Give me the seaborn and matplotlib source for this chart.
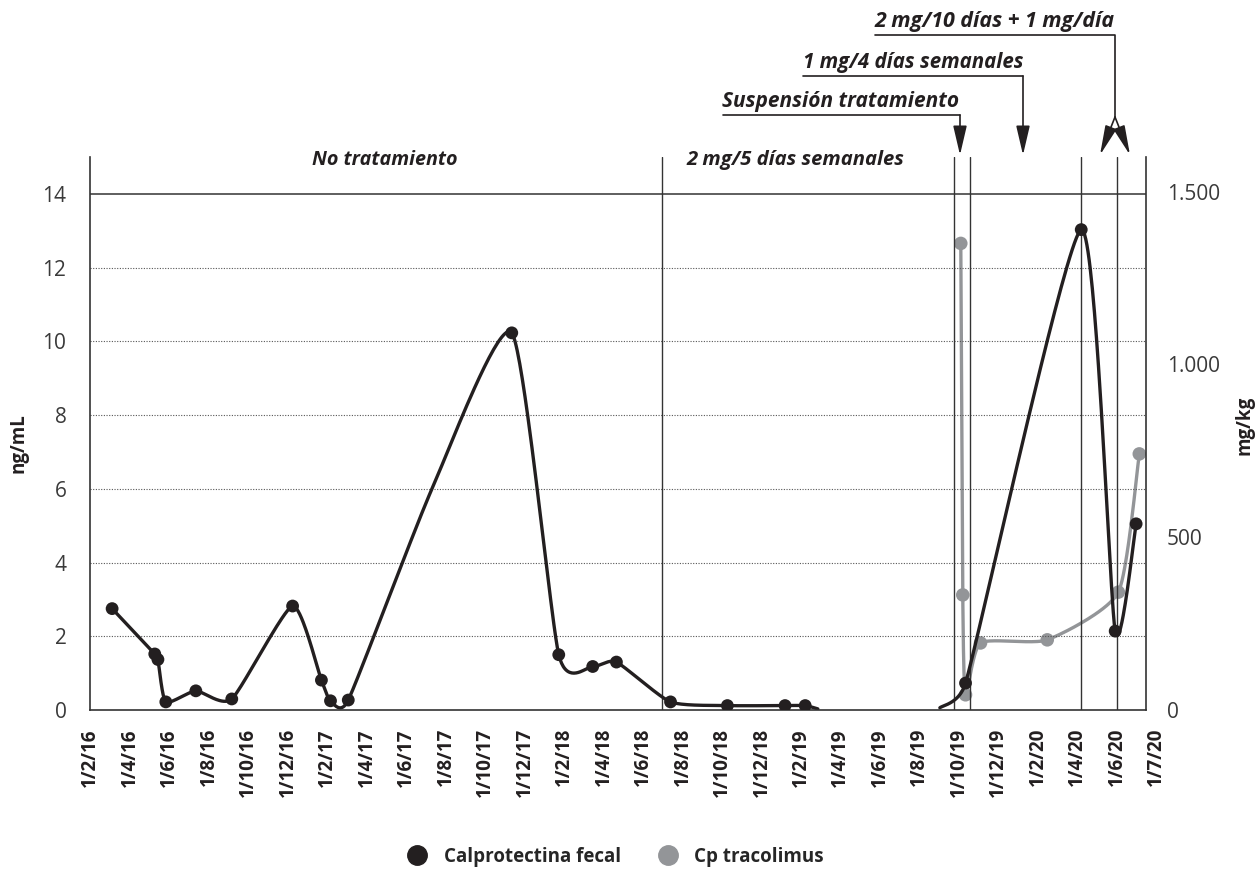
import numpy as np
import pandas as pd
import matplotlib
matplotlib.use("Agg")
import matplotlib.pyplot as plt
import matplotlib.transforms as mtransforms
from matplotlib.lines import Line2D
import seaborn as sns

# eje x: posicion en unidades de etiqueta (0 = 1/2/16, 1 = 1/4/16, ...)
fechas = ["1/2/16", "1/4/16", "1/6/16", "1/8/16", "1/10/16", "1/12/16",
          "1/2/17", "1/4/17", "1/6/17", "1/8/17", "1/10/17", "1/12/17",
          "1/2/18", "1/4/18", "1/6/18", "1/8/18", "1/10/18", "1/12/18",
          "1/2/19", "1/4/19", "1/6/19", "1/8/19", "1/10/19", "1/12/19",
          "1/2/20", "1/4/20", "1/6/20", "1/7/20"]

# Calprotectina fecal (ng/mL) - tramo 1 (1 = con marcador)
calpro1_x = [0.56, 1.64, 1.72, 1.92, 2.68, 3.59, 5.13, 5.86, 6.09, 6.54,
             8.66, 10.68, 11.87, 12.73, 13.33, 14.70, 16.14, 17.60, 18.11, 18.43]
calpro1_y = [2.75, 1.52, 1.37, 0.22, 0.52, 0.30, 2.82, 0.81, 0.25, 0.27,
             6.0, 10.23, 1.50, 1.18, 1.30, 0.22, 0.12, 0.12, 0.12, 0.03]
calpro1_m = [1, 1, 1, 1, 1, 1, 1, 1, 1, 1, 0, 1, 1, 1, 1, 1, 1, 1, 1, 0]

# tramo 2
calpro2_x = [21.52, 22.17, 25.10, 25.96, 26.49]
calpro2_y = [0.06, 0.73, 13.03, 2.14, 5.05]
calpro2_m = [0, 1, 1, 1, 1]

# Cp tacrolimus (mg/kg)
tacro_x = [22.05, 22.10, 22.17, 22.55, 24.24, 26.04, 26.57]
tacro_y = [1350, 333, 44, 194, 203, 341, 741]

# cambios de tratamiento
cortes = [14.49, 21.87, 22.28, 25.10, 26.01]

negro = "#231f20"
gris = "#939598"
texto = "#3a3a3a"


def suavizar(x, y, kx, ky, n=40, f=0.1, tope=1.0):
    # curva suave tipo Excel (Bezier, tiradores limitados al tramo, en pixeles)
    p = np.column_stack([np.asarray(x) * kx, np.asarray(y) * ky]).astype(float)
    p = np.vstack([p[0], p, p[-1]])
    t = np.linspace(0, 1, n)[:, None]
    out = []
    for i in range(1, len(p) - 2):
        p0, p1, p2, p3 = p[i - 1], p[i], p[i + 1], p[i + 2]
        l12 = np.hypot(*(p2 - p1))
        h1 = (p2 - p0) * f
        h2 = (p3 - p1) * f
        for h in (h1, h2):
            n_h = np.hypot(*h)
            if n_h > tope * l12:
                h *= tope * l12 / n_h
        c1 = p1 + h1
        c2 = p2 - h2
        out.append((1 - t) ** 3 * p1 + 3 * (1 - t) ** 2 * t * c1
                   + 3 * (1 - t) * t ** 2 * c2 + t ** 3 * p2)
    out = np.vstack(out)
    return out[:, 0] / kx, out[:, 1] / ky


sns.set_theme(style="white")
plt.rcParams["font.family"] = ["Open Sans", "DejaVu Sans"]

fig = plt.figure(figsize=(12.6, 8.72), dpi=100)
ax = fig.add_axes([90 / 1260, 162 / 872, 1056 / 1260, 553 / 872])
ax2 = ax.twinx()
ax.set_zorder(ax2.get_zorder() + 1)
ax.patch.set_visible(False)

# grid
for v in [2, 4, 6, 8, 10, 12]:
    ax.axhline(v, color="#555555", lw=0.8, ls=(0, (1, 1.4)), zorder=0)
ax.axhline(14, color="#333333", lw=1.1, zorder=0)
for c in cortes:
    ax.axvline(c, color="#333333", lw=1.0, zorder=0)

# Cp tacrolimus (eje derecho)
sx, sy = suavizar(tacro_x, tacro_y, 39.6, 553 / 1600)
sns.lineplot(x=sx, y=sy, ax=ax2, color=gris, lw=2.4, sort=False, estimator=None)
sns.scatterplot(x=tacro_x, y=tacro_y, ax=ax2, color=gris, s=95, edgecolor="none", zorder=3)

# Calprotectina fecal
for xs, ys, ms, tp in [(calpro1_x, calpro1_y, calpro1_m, 1.0),
                       (calpro2_x, calpro2_y, calpro2_m, 0.6)]:
    sx, sy = suavizar(xs, ys, 39.6, 553 / 15, tope=tp)
    sns.lineplot(x=sx, y=sy, ax=ax, color=negro, lw=2.4, sort=False, estimator=None)
    df = pd.DataFrame({"x": xs, "y": ys, "m": ms})
    df = df[df["m"] == 1]
    sns.scatterplot(data=df, x="x", y="y", ax=ax, color=negro, s=85, edgecolor="none", zorder=4)

ax.set_xlim(0.076, 26.74)
ax.set_ylim(0, 15)
ax2.set_ylim(0, 1600)

ax.set_yticks(range(0, 15, 2))
ax.set_yticklabels([str(v) for v in range(0, 15, 2)], fontsize=15, color=texto)
ax2.set_yticks([0, 500, 1000, 1500])
ax2.set_yticklabels(["0", "500", "1.000", "1.500"], fontsize=15, color=texto)
ax.tick_params(axis="y", length=0, pad=17)
ax2.tick_params(axis="y", length=0, pad=15)

ax.set_xticks(range(27))
ax.set_xticklabels(fechas[:27], rotation=90, fontsize=13.5, fontweight="bold", color=negro)
ax.tick_params(axis="x", length=0, pad=13)
trans = mtransforms.offset_copy(ax.get_xaxis_transform(), fig=fig, y=-13, units="points")
ax.text(27, 0, fechas[27], transform=trans, rotation=90, ha="center", va="top",
        fontsize=13.5, fontweight="bold", color=negro, clip_on=False)

ax.set_xlabel("")
ax.set_ylabel("")
ax2.set_ylabel("")
fig.text(18 / 1260, 1 - 443 / 872, "ng/mL", rotation=90, ha="center", va="center",
         fontsize=13.5, fontweight="bold", color=negro)
fig.text(1245 / 1260, 1 - 425 / 872, "mg/kg", rotation=90, ha="center", va="center",
         fontsize=13.5, fontweight="bold", color=negro)

for s in ax.spines.values():
    s.set_color("#333333")
    s.set_linewidth(1.2)
ax.spines["top"].set_visible(False)
for s in ax2.spines.values():
    s.set_visible(False)

# etiquetas de tratamiento
def ftxt(x, y, s, size=15):
    fig.text(x / 1260, 1 - y / 872, s, ha="left", va="baseline", fontsize=size,
             fontweight="bold", fontstyle="italic", color=negro)

ftxt(312, 165, "No tratamiento", 14.2)
ftxt(686, 165, "2 mg/5 días semanales", 14.6)
ftxt(722, 107, "Suspensión tratamiento")
ftxt(803, 68, "1 mg/4 días semanales", 14.8)
ftxt(875, 27, "2 mg/10 días + 1 mg/día", 15.4)

def fline(pts):
    xs = [p[0] / 1260 for p in pts]
    ys = [1 - p[1] / 872 for p in pts]
    fig.add_artist(Line2D(xs, ys, color=negro, lw=1.2))

def farrow(x0, y0, x1, y1, hw=0.35):
    ax.annotate("", xy=(x1, 872 - y1), xytext=(x0, 872 - y0),
                xycoords="figure pixels", textcoords="figure pixels",
                arrowprops=dict(arrowstyle=f"-|>,head_length=1.5,head_width={hw}",
                                color=negro, lw=1.2, shrinkA=0, shrinkB=0))

fline([(723, 115), (960, 115)])
farrow(960, 115, 960, 155)
fline([(803, 76), (1023, 76)])
farrow(1023, 76, 1023, 155)
fline([(875, 35), (1115, 35), (1115, 117)])
farrow(1115, 117, 1100, 155, 0.3)
farrow(1115, 117, 1130, 155, 0.3)

handles = [Line2D([], [], marker="o", ls="", color=negro, markersize=14, label="Calprotectina fecal"),
           Line2D([], [], marker="o", ls="", color=gris, markersize=14, label="Cp tracolimus")]
fig.legend(handles=handles, loc="center", bbox_to_anchor=(0.485, 1 - 857 / 872), ncol=2,
           frameon=False, prop={"weight": "bold", "size": 13.5}, handletextpad=0.4,
           columnspacing=1.5)

fig.savefig("out.png", dpi=100)
